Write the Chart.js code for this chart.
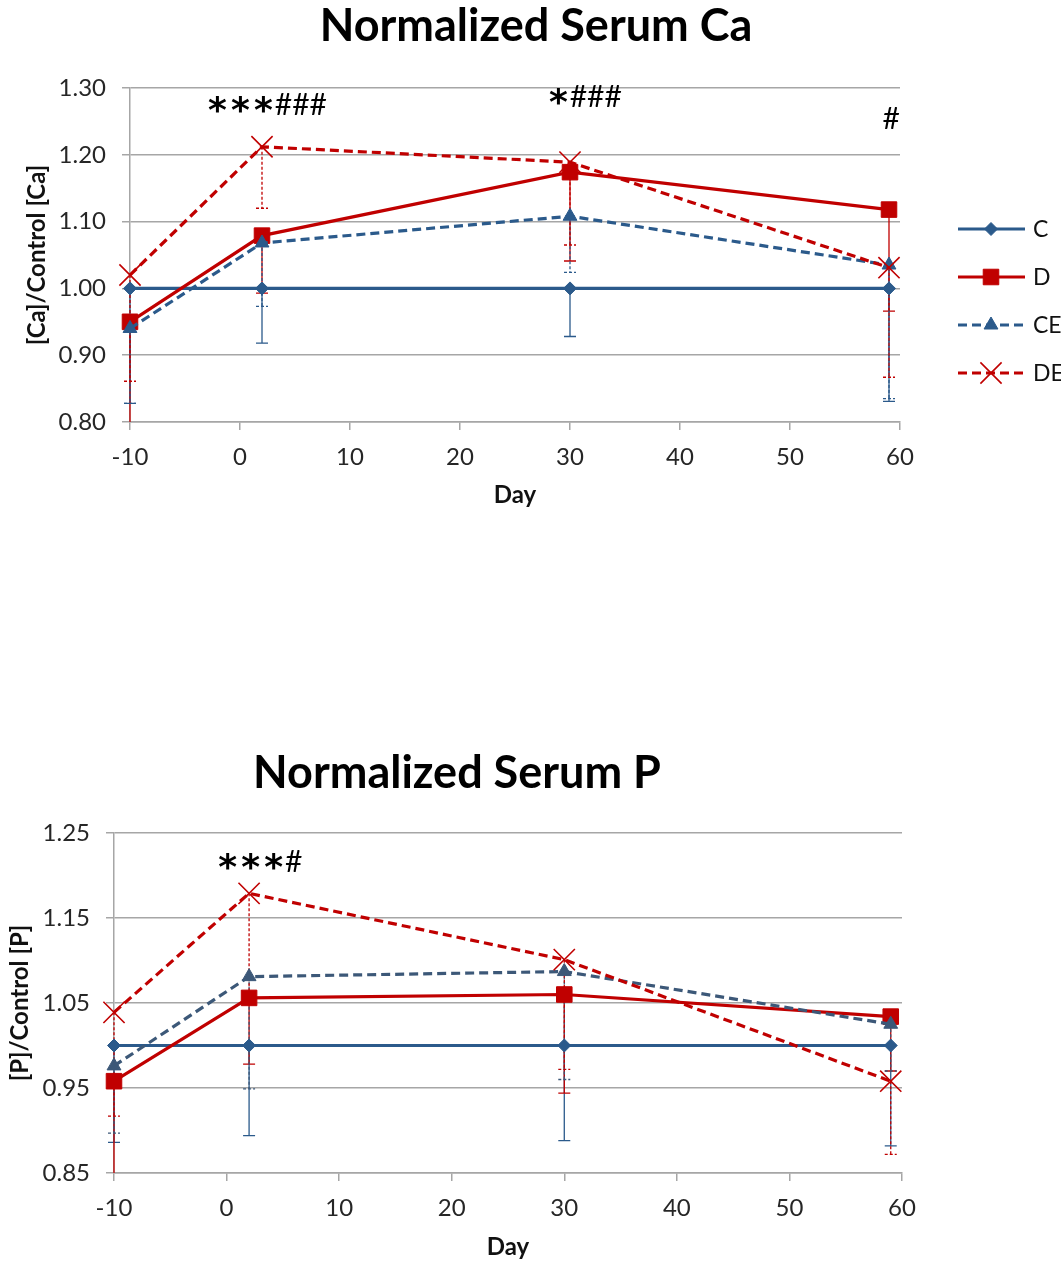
<!DOCTYPE html>
<html>
<head>
<meta charset="utf-8">
<script src="https://cdn.jsdelivr.net/npm/chart.js@4.4.1/dist/chart.umd.min.js"></script>
<style>
  html, body { margin: 0; padding: 0; background: #fff; }
  #wrap { position: relative; width: 1061px; height: 1262px; }
  .box { position: absolute; left: 0; width: 1061px; }
  #boxCa { top: 0; height: 530px; }
  #boxP { top: 730px; height: 532px; }
</style>
</head>
<body>
<div id="wrap">
  <div class="box" id="boxCa"><canvas id="chartCa"></canvas></div>
  <div class="box" id="boxP"><canvas id="chartP"></canvas></div>
</div>
<script>
(function () {
    "use strict";

    var days = [-10, 2, 30, 59];
    var dayTicks = [-10, 0, 10, 20, 30, 40, 50, 60];
    var caTicks = [0.80, 0.90, 1.00, 1.10, 1.20, 1.30];
    var pTicks = [0.85, 0.95, 1.05, 1.15, 1.25];

    // serum Ca / control Ca, with the lower error bar length
    var caC = [1.000, 1.000, 1.000, 1.000];
    var caCErr = [0.172, 0.082, 0.072, 0.169];
    var caD = [0.950, 1.079, 1.174, 1.118];
    var caDErr = [0.200, 0.086, 0.133, 0.152];
    var caCE = [0.940, 1.068, 1.108, 1.035];
    var caCEErr = [0.112, 0.095, 0.084, 0.200];
    var caDE = [1.020, 1.212, 1.189, 1.031];
    var caDEErr = [0.159, 0.092, 0.124, 0.164];

    // serum P / control P
    var pC = [1.000, 1.000, 1.000, 1.000];
    var pCErr = [0.114, 0.106, 0.112, 0.118];
    var pD = [0.958, 1.056, 1.060, 1.034];
    var pDErr = [0.200, 0.078, 0.116, 0.064];
    var pCE = [0.976, 1.081, 1.087, 1.025];
    var pCEErr = [0.079, 0.132, 0.127, 0.055];
    var pDE = [1.039, 1.179, 1.101, 0.958];
    var pDEErr = [0.122, 0.120, 0.129, 0.086];

    // significance marks: day, value, stars, hashes
    var caMarks = [[2.5, 1.276, "***", "###"], [31.4, 1.288, "*", "###"], [59.2, 1.255, "", "#"]];
    var pMarks = [[3.0, 1.217, "***", "#"]];

    var blue = "#2b5a8b";
    var slate = "#3c5878";
    var red = "#c00000";
    var grid = "#a6a6a6";
    var font = "Lato, 'Open Sans', sans-serif";

    function series(label, values, err, color, style, radius, dashed, order) {
        return {
            label: label,
            data: days.map(function (d, i) { return { x: d, y: values[i] }; }),
            err: err,
            borderColor: color,
            backgroundColor: color,
            borderWidth: 3.2,
            borderDash: dashed ? [9, 5] : [],
            pointStyle: style,
            pointRadius: radius,
            pointBackgroundColor: color,
            pointBorderColor: color,
            pointBorderWidth: style === "crossRot" ? 1.6 : 1,
            tension: 0,
            order: order,
            clip: false
        };
    }

    function datasets(c, cErr, d, dErr, ce, ceErr, de, deErr, ceColor) {
        return [
            series("C", c, cErr, blue, "rectRot", 6.5, false, 3),
            series("D", d, dErr, red, "rect", 11, false, 2),
            series("CE", ce, ceErr, ceColor, "triangle", 8, true, 1),
            series("DE", de, deErr, red, "crossRot", 15, true, 0)
        ];
    }

    // lower error bars, drawn under the lines
    var errorBars = {
        id: "errorBars",
        beforeDatasetsDraw: function (chart) {
            var ctx = chart.ctx, area = chart.chartArea, yScale = chart.scales.y;
            ctx.save();
            ctx.beginPath();
            ctx.rect(area.left - 10, area.top, area.right - area.left + 20, area.bottom - area.top);
            ctx.clip();
            chart.data.datasets.forEach(function (ds, i) {
                var meta = chart.getDatasetMeta(i);
                ctx.strokeStyle = ds.borderColor;
                ctx.lineWidth = 1.3;
                ctx.setLineDash(ds.borderDash.length ? [3, 2] : []);
                meta.data.forEach(function (pt, j) {
                    var yLow = yScale.getPixelForValue(ds.data[j].y - ds.err[j]);
                    ctx.beginPath();
                    ctx.moveTo(pt.x, pt.y);
                    ctx.lineTo(pt.x, yLow);
                    ctx.moveTo(pt.x - 6, yLow);
                    ctx.lineTo(pt.x + 6, yLow);
                    ctx.stroke();
                });
            });
            ctx.restore();
        }
    };

    var fixedTitle = {
        id: "fixedTitle",
        afterDraw: function (chart, args, opts) {
            var ctx = chart.ctx;
            ctx.save();
            ctx.font = "bold 45px " + font;
            ctx.fillStyle = "#000";
            ctx.textAlign = "center";
            ctx.textBaseline = "middle";
            ctx.fillText(opts.text, opts.x, opts.y);
            ctx.restore();
        }
    };

    var sigMarks = {
        id: "sigMarks",
        afterDatasetsDraw: function (chart, args, opts) {
            var ctx = chart.ctx, xs = chart.scales.x, ys = chart.scales.y;
            var starFont = "bold 36px 'DejaVu Sans'";
            var hashFont = "30px " + font;
            var starStep = 23;
            ctx.save();
            ctx.fillStyle = "#000";
            ctx.textBaseline = "alphabetic";
            ctx.textAlign = "left";
            (opts.marks || []).forEach(function (m) {
                var cx = xs.getPixelForValue(m[0]);
                var cy = ys.getPixelForValue(m[1]);
                ctx.font = starFont;
                var sm = ctx.measureText("*");
                var starW = m[2].length ? (m[2].length - 1) * starStep + sm.width : 0;
                ctx.font = hashFont;
                var hm = ctx.measureText(m[3]);
                var gap = m[2].length ? 2 : 0;
                var x = cx - (starW + gap + hm.width) / 2;
                ctx.font = starFont;
                var sOff = (sm.actualBoundingBoxAscent - sm.actualBoundingBoxDescent) / 2;
                for (var k = 0; k < m[2].length; k++) {
                    ctx.fillText("*", x + k * starStep, cy + sOff);
                }
                ctx.font = hashFont;
                var hOff = (hm.actualBoundingBoxAscent - hm.actualBoundingBoxDescent) / 2;
                ctx.fillText(m[3], x + starW + gap, cy + hOff);
            });
            ctx.restore();
        }
    };

    var sideLegend = {
        id: "sideLegend",
        afterDraw: function (chart, args, opts) {
            if (!opts.rows) { return; }
            var ctx = chart.ctx;
            ctx.save();
            chart.data.datasets.forEach(function (ds, i) {
                var y = opts.rows[i];
                ctx.strokeStyle = ds.borderColor;
                ctx.fillStyle = ds.borderColor;
                ctx.lineWidth = 3.2;
                ctx.setLineDash(ds.borderDash);
                ctx.beginPath();
                ctx.moveTo(opts.x1, y);
                ctx.lineTo(opts.x2, y);
                ctx.stroke();
                ctx.setLineDash([]);
                ctx.lineWidth = ds.pointBorderWidth;
                Chart.helpers.drawPoint(ctx, {
                    pointStyle: ds.pointStyle,
                    radius: ds.pointRadius,
                    rotation: 0,
                    borderWidth: ds.pointBorderWidth
                }, opts.mark, y);
                ctx.fillStyle = "#111";
                ctx.font = "23px " + font;
                ctx.textBaseline = "middle";
                ctx.fillText(ds.label, opts.text, y + 1);
            });
            ctx.restore();
        }
    };

    function options(cfg) {
        return {
            responsive: true,
            maintainAspectRatio: false,
            animation: false,
            events: [],
            layout: { padding: { top: cfg.top, right: cfg.right, bottom: 0, left: 0 } },
            plugins: {
                legend: { display: false },
                tooltip: { enabled: false },
                fixedTitle: cfg.title,
                sigMarks: { marks: cfg.marks },
                sideLegend: cfg.legend || {}
            },
            scales: {
                x: {
                    type: "linear",
                    min: -10,
                    max: 60,
                    afterBuildTicks: function (s) { s.ticks = dayTicks.map(function (v) { return { value: v }; }); },
                    afterFit: function (s) { s.height = cfg.xHeight; },
                    ticks: { font: { family: font, size: 24 }, color: "#262626", padding: 13, maxRotation: 0, autoSkip: false },
                    grid: { drawOnChartArea: false, tickLength: 8, color: grid, lineWidth: 1.5 },
                    border: { color: grid, width: 1.5 },
                    title: {
                        display: true,
                        text: "Day",
                        color: "#111",
                        font: { family: font, size: 24, weight: "bold" },
                        padding: { top: 0, bottom: cfg.xTitlePad }
                    }
                },
                y: {
                    min: cfg.yTicks[0],
                    max: cfg.yTicks[cfg.yTicks.length - 1],
                    afterBuildTicks: function (s) { s.ticks = cfg.yTicks.map(function (v) { return { value: v }; }); },
                    afterFit: function (s) { s.width = cfg.yWidth; },
                    ticks: {
                        font: { family: font, size: 24 },
                        color: "#262626",
                        padding: 16,
                        callback: function (v) { return Number(v).toFixed(2); }
                    },
                    grid: { color: grid, lineWidth: 1.5, tickLength: 8 },
                    border: { color: grid, width: 1.5 },
                    title: {
                        display: true,
                        text: cfg.yTitle,
                        color: "#111",
                        font: { family: font, size: 24, weight: "bold" },
                        padding: { top: cfg.yTitlePad, bottom: 0 }
                    }
                }
            }
        };
    }

    new Chart(document.getElementById("chartCa").getContext("2d"), {
        type: "line",
        data: { datasets: datasets(caC, caCErr, caD, caDErr, caCE, caCEErr, caDE, caDEErr, blue) },
        options: options({
            top: 88, right: 161, xHeight: 108, yWidth: 130,
            xTitlePad: 20, yTitlePad: 23,
            yTicks: caTicks, yTitle: "[Ca]/Control [Ca]",
            title: { text: "Normalized Serum Ca", x: 536, y: 26 },
            marks: caMarks,
            legend: { x1: 958, x2: 1025, mark: 991, text: 1033, rows: [229, 277, 325, 373] }
        }),
        plugins: [errorBars, sigMarks, fixedTitle, sideLegend]
    });

    new Chart(document.getElementById("chartP").getContext("2d"), {
        type: "line",
        data: { datasets: datasets(pC, pCErr, pD, pDErr, pCE, pCEErr, pDE, pDEErr, slate) },
        options: options({
            top: 103, right: 159, xHeight: 89, yWidth: 114,
            xTitlePad: 0, yTitlePad: 6,
            yTicks: pTicks, yTitle: "[P]/Control [P]",
            title: { text: "Normalized Serum P", x: 457, y: 43 },
            marks: pMarks
        }),
        plugins: [errorBars, sigMarks, fixedTitle, sideLegend]
    });
})();
</script>
</body>
</html>
